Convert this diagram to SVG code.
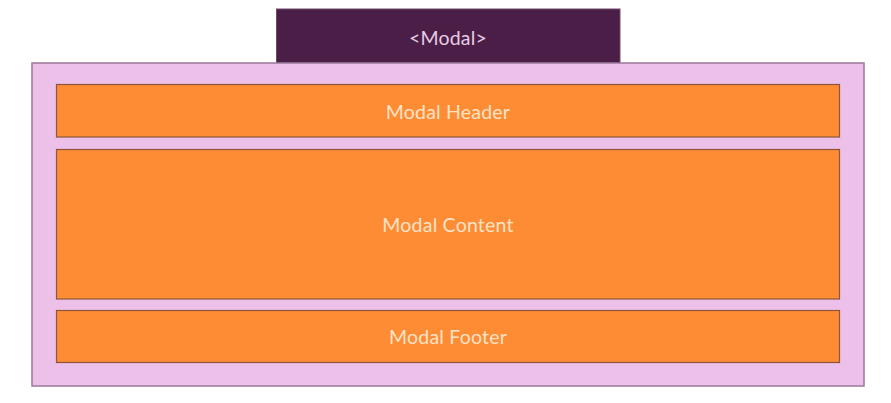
<svg xmlns="http://www.w3.org/2000/svg" width="891" height="403" viewBox="0 0 891 403">
<style>
.sec{fill:#fd8c35;stroke:#8e5538;stroke-width:1.2}
.lbl{font-family:Lato,"Open Sans",sans-serif;font-size:19.5px;letter-spacing:0.2px;fill:#fde3c6;text-anchor:middle;dominant-baseline:central}
</style>
<rect width="891" height="403" fill="#ffffff"/>
<g id="modal-tab">
<rect x="276.5" y="9" width="343.5" height="54" fill="#4b1e47" stroke="#6e4a6a" stroke-width="1"/>
<text class="lbl" x="448" y="37" style="fill:#e6cde3">&lt;Modal&gt;</text>
</g>
<g id="modal">
<rect x="32" y="63" width="832" height="323" fill="#ecc0e9" stroke="#98789a" stroke-width="1.5"/>
</g>
<g id="header">
<rect class="sec" x="56.5" y="84.5" width="783" height="52.5"/>
<text class="lbl" x="448" y="111">Modal Header</text>
</g>
<g id="content">
<rect class="sec" x="56.5" y="149.5" width="783" height="149.5"/>
<text class="lbl" x="448" y="224">Modal Content</text>
</g>
<g id="footer">
<rect class="sec" x="56.5" y="310.5" width="783" height="52"/>
<text class="lbl" x="448" y="336">Modal Footer</text>
</g>
<g id="connectors"/>
</svg>
